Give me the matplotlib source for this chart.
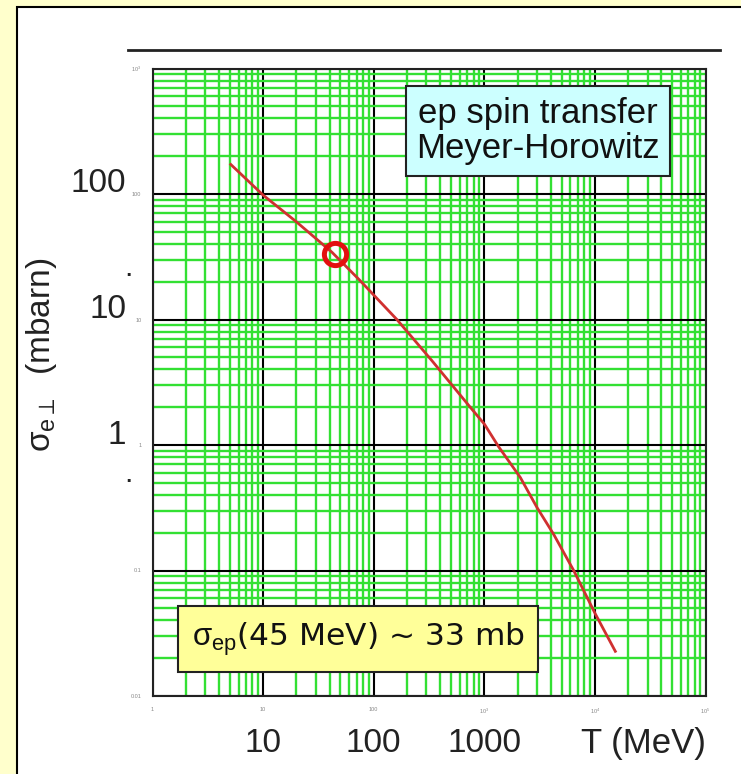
import matplotlib
matplotlib.use("Agg")
import matplotlib.pyplot as plt
from matplotlib.patches import Rectangle
from matplotlib.lines import Line2D
from matplotlib.ticker import LogLocator, FixedLocator, FixedFormatter, NullFormatter

plt.rcParams['font.family'] = ['Liberation Sans', 'DejaVu Sans']
plt.rcParams['mathtext.fontset'] = 'custom'
plt.rcParams['mathtext.rm'] = 'Liberation Sans'
plt.rcParams['mathtext.it'] = 'Liberation Sans:italic'
plt.rcParams['mathtext.sf'] = 'Liberation Sans'

# ---- data ----
T_MeV = [5.1, 10, 20, 42, 75, 162, 336, 746, 1000, 1346, 2120, 3000, 4240, 6430, 10100, 15300]
sigma_mb = [172, 98, 60, 34.3, 20.5, 10.0, 4.7, 2.0, 1.47, 0.97, 0.55, 0.317, 0.194, 0.1, 0.045, 0.0227]
point_T = [45]
point_sigma = [33]

x_big_ticks = [10, 100, 1000]
x_big_labels = ["10", "100", "1000"]
y_big_ticks = [100, 10, 1]
y_big_labels = ["100", "10", "1"]
x_small_ticks = [1, 10, 100, 1000, 1e4, 1e5]
x_small_labels = ["1", "10", "100", "$10^3$", "$10^4$", "$10^5$"]
y_small_ticks = [0.01, 0.1, 1, 10, 100, 1000]
y_small_labels = ["0.01", "0.1", "1", "10", "100", "$10^3$"]

W, H = 741, 774
fig = plt.figure(figsize=(W / 100, H / 100), dpi=100)
fig.patch.set_facecolor('#FFFFCC')

# white panel with black border
fig.patches.append(Rectangle((17 / W, -0.05), 1.1, 1 - 7 / H + 0.05,
                             transform=fig.transFigure, facecolor='white',
                             edgecolor='black', linewidth=1.5, zorder=-5))
# top black rule
fig.lines.append(Line2D([128 / W, 720 / W], [1 - 50 / H, 1 - 50 / H],
                        transform=fig.transFigure, color='#222222', linewidth=2, zorder=-4))

ax = fig.add_axes([152.5 / W, 78 / H, 553 / W, 627.5 / H])
ax.set_zorder(1)
ax.set_xscale('log')
ax.set_yscale('log')
ax.set_xlim(1, 1e5)
ax.set_ylim(0.01, 1000)
ax.set_facecolor('white')

green = '#33E033'
ax.xaxis.set_minor_locator(LogLocator(base=10, subs=range(2, 10), numticks=50))
ax.yaxis.set_minor_locator(LogLocator(base=10, subs=range(2, 10), numticks=50))
ax.xaxis.set_minor_formatter(NullFormatter())
ax.yaxis.set_minor_formatter(NullFormatter())
ax.grid(which='minor', color=green, linewidth=1.7)
ax.grid(which='major', color='black', linewidth=1.5)
ax.set_axisbelow(True)

ax.xaxis.set_major_locator(FixedLocator(x_small_ticks))
ax.xaxis.set_major_formatter(FixedFormatter(x_small_labels))
ax.yaxis.set_major_locator(FixedLocator(y_small_ticks))
ax.yaxis.set_major_formatter(FixedFormatter(y_small_labels))
ax.tick_params(which='both', length=0, labelsize=4, labelcolor='#888888', pad=8)
for s in ax.spines.values():
    s.set_linewidth(1.5)
    s.set_color('#222222')

ax.plot(T_MeV, sigma_mb, color='#D03030', linewidth=2, zorder=3)
ax.plot(point_T, point_sigma, linestyle='none', marker='o', markersize=16,
        markerfacecolor='none', markeredgecolor='#E31010', markeredgewidth=3.6, zorder=4)

# annotation boxes (inside axes so they sit above the grid)
ax.text(538 / W, 1 - 131 / H, "ep spin transfer\nMeyer-Horowitz", transform=fig.transFigure,
        ha='center', va='center', fontsize=25, color='#111111', linespacing=1.1, zorder=6,
        bbox=dict(boxstyle='square,pad=0.3', facecolor='#CCFFFF', edgecolor='#222222', linewidth=1.5))
ax.text(358 / W, 1 - 639 / H, r"$\mathrm{\sigma_{ep}}$(45 MeV) ~ 33 mb", transform=fig.transFigure,
        ha='center', va='center', fontsize=22.5, color='#111111', family=['DejaVu Sans'], zorder=6,
        bbox=dict(boxstyle='square,pad=0.45', facecolor='#FFFF99', edgecolor='#222222', linewidth=1.5))

fig.canvas.draw()
# big tick labels
for t, lab in zip(x_big_ticks, x_big_labels):
    xd = ax.transData.transform((t, 1))[0]
    fig.text(xd / W, 1 - 744 / H, lab, ha='center', va='center', fontsize=24, color='#222222')
fig.text(643 / W, 1 - 744 / H, "T (MeV)", ha='center', va='center', fontsize=25, color='#222222')

for t, lab in zip(y_big_ticks, y_big_labels):
    yd = ax.transData.transform((1, t))[1]
    fig.text(126 / W, (yd + 10) / H, lab, ha='right', va='center', fontsize=24, color='#222222')
fig.text(128 / W, 1 - 268 / H, ".", ha='center', va='center', fontsize=22, color='#222222')
fig.text(128 / W, 1 - 474 / H, ".", ha='center', va='center', fontsize=22, color='#222222')

fig.text(42 / W, 1 - 355 / H, r"$\mathrm{\sigma_{e\perp}}$  (mbarn)", rotation=90,
         ha='center', va='center', fontsize=24, color='#222222')

fig.savefig('out.png', dpi=100, facecolor=fig.get_facecolor())
